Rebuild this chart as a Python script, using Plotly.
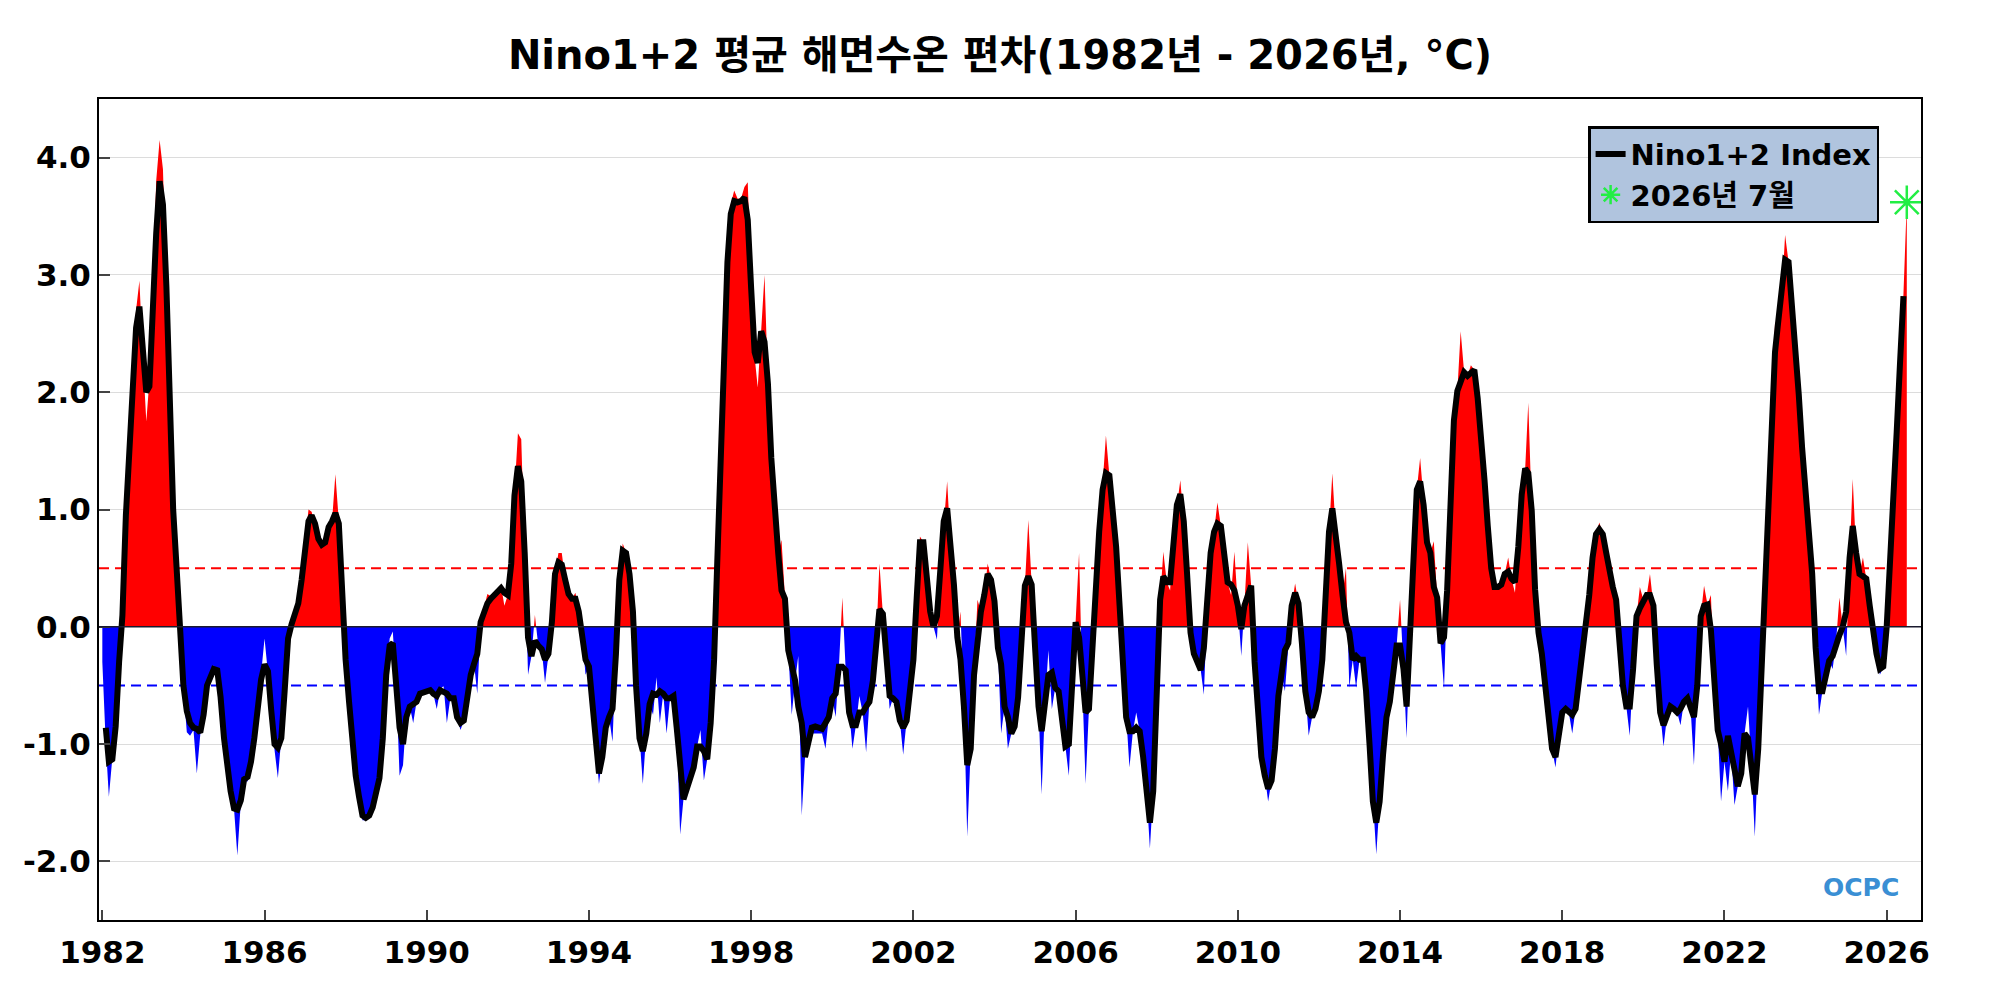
import numpy as np
import pandas as pd
import plotly.graph_objects as go

# monthly Nino1+2 SST anomaly (degC), Jan 1982 .. Jul 2026 (red/blue fill)
anom_1980s = [
    -0.30, -1.00, -1.45, -1.10, -0.80, -0.20, 0.20, 1.00, 1.60, 2.25, 2.70, 2.95,   # 1982
    2.30, 1.75, 2.10, 2.80, 3.80, 4.15, 3.90, 2.90, 1.90, 0.95, 0.45, -0.15,        # 1983
    -0.55, -0.90, -0.93, -0.88, -1.25, -0.92, -0.70, -0.45, -0.40, -0.33, -0.40, -0.65,  # 1984
    -1.00, -1.25, -1.42, -1.55, -1.95, -1.50, -1.32, -1.32, -1.15, -0.95, -0.70, -0.40,  # 1985
    -0.10, -0.40, -0.75, -1.05, -1.29, -0.95, -0.50, -0.05, 0.05, 0.15, 0.25, 0.45,  # 1986
    0.75, 1.00, 0.98, 0.85, 0.75, 0.72, 0.75, 0.85, 0.90, 1.30, 0.90, 0.20,         # 1987
    -0.30, -0.65, -0.95, -1.27, -1.45, -1.65, -1.65, -1.63, -1.55, -1.40, -1.29, -0.95,  # 1988
    -0.41, -0.10, -0.04, -0.50, -1.27, -1.18, -0.77, -0.68, -0.82, -0.64, -0.57, -0.56,  # 1989
]
anom_1990s = [
    -0.55, -0.54, -0.57, -0.70, -0.54, -0.50, -0.82, -0.61, -0.61, -0.77, -0.88, -0.80,  # 1990
    -0.55, -0.41, -0.30, -0.57, 0.04, 0.15, 0.28, 0.26, 0.28, 0.33, 0.35, 0.18,     # 1991
    0.27, 0.55, 1.15, 1.65, 1.60, 0.63, -0.41, -0.25, 0.10, -0.16, -0.19, -0.48,    # 1992
    -0.23, 0.04, 0.45, 0.63, 0.63, 0.40, 0.28, 0.24, 0.29, 0.13, -0.09, -0.41,      # 1993
    -0.34, -0.68, -1.04, -1.34, -1.11, -0.86, -0.77, -0.98, -0.23, 0.40, 0.71, 0.63,  # 1994
    0.45, 0.13, -0.50, -0.95, -1.34, -0.91, -0.66, -0.75, -0.43, -0.82, -0.57, -0.91,  # 1995
    -0.61, -0.59, -0.86, -1.77, -1.47, -1.38, -1.29, -1.20, -1.02, -0.88, -1.31, -1.13,  # 1996
    -0.82, -0.28, 0.54, 1.44, 2.34, 3.11, 3.60, 3.72, 3.65, 3.65, 3.75, 3.79,       # 1997
    2.88, 2.30, 2.04, 2.52, 3.00, 2.07, 1.44, 0.94, 0.63, 0.74, 0.24, -0.20,        # 1998
    -0.75, -0.46, -0.25, -1.61, -1.11, -0.95, -0.91, -0.91, -0.91, -0.91, -1.04, -0.77,  # 1999
]
anom_2000s = [
    -0.61, -0.77, -0.34, 0.25, -0.37, -0.73, -1.04, -0.84, -0.59, -0.73, -1.07, -0.64,  # 2000
    -0.46, -0.09, 0.54, 0.11, -0.32, -0.70, -0.61, -0.64, -0.80, -1.09, -0.80, -0.59,  # 2001
    -0.28, 0.27, 0.77, 0.72, 0.40, 0.13, 0.00, -0.11, 0.49, 0.90, 1.24, 0.72,       # 2002
    0.36, -0.09, 0.13, -0.68, -1.79, -1.04, -0.41, 0.23, 0.13, 0.27, 0.54, 0.40,    # 2003
    0.22, -0.18, -0.91, -0.68, -1.04, -0.91, -0.85, -0.60, -0.07, 0.35, 0.91, 0.36,  # 2004
    0.04, -0.68, -1.43, -0.64, -0.20, -0.70, -0.52, -0.55, -0.77, -1.02, -1.27, -0.55,  # 2005
    0.04, 0.63, -0.46, -1.34, -0.70, -0.18, 0.36, 0.81, 1.17, 1.63, 1.29, 0.99,     # 2006
    0.68, 0.18, -0.28, -0.77, -1.20, -0.89, -0.73, -0.89, -1.11, -1.40, -1.89, -1.40,  # 2007
    -0.64, 0.23, 0.64, 0.38, 0.31, 0.81, 1.04, 1.25, 0.90, 0.45, -0.05, -0.23,      # 2008
    -0.32, -0.37, -0.58, 0.18, 0.63, 0.81, 1.06, 0.86, 0.59, 0.38, 0.27, 0.64,      # 2009
]
anom_2010s = [
    0.18, -0.25, 0.18, 0.72, 0.35, -0.30, -0.70, -1.11, -1.27, -1.49, -1.31, -1.04,  # 2010
    -0.59, -0.41, -0.55, -0.14, 0.18, 0.37, 0.20, -0.14, -0.55, -0.93, -0.77, -0.70,  # 2011
    -0.55, -0.28, 0.27, 0.81, 1.31, 0.81, 0.54, 0.27, 0.50, -0.52, -0.28, -0.52,    # 2012
    -0.28, -0.28, -0.55, -1.00, -1.49, -1.94, -1.49, -1.09, -0.77, -0.64, -0.41, -0.16,  # 2013
    0.23, -0.36, -0.95, -0.09, 0.68, 1.17, 1.44, 1.04, 0.72, 0.63, 0.73, 0.25,      # 2014
    -0.14, -0.53, 0.31, 1.08, 1.76, 2.01, 2.52, 2.17, 2.14, 2.23, 2.19, 1.95,       # 2015
    1.65, 1.25, 0.86, 0.50, 0.34, 0.34, 0.36, 0.45, 0.59, 0.41, 0.29, 0.68,         # 2016
    1.13, 1.35, 1.91, 0.99, 0.32, -0.05, -0.23, -0.50, -0.77, -1.04, -1.20, -0.93,  # 2017
    -0.73, -0.70, -0.73, -0.91, -0.70, -0.46, -0.23, -0.05, 0.27, 0.59, 0.79, 0.89,  # 2018
    0.79, 0.63, 0.47, 0.34, 0.23, -0.18, -0.50, -0.68, -0.93, -0.36, 0.09, 0.34,    # 2019
]
anom_2020s = [
    0.23, 0.27, 0.45, 0.18, -0.32, -0.73, -1.02, -0.77, -0.68, -0.70, -0.73, -0.84,  # 2020
    -0.64, -0.61, -0.68, -1.18, -0.50, 0.09, 0.35, 0.19, 0.27, -0.55, -0.88, -1.49,  # 2021
    -1.15, -1.40, -1.06, -1.52, -1.36, -1.25, -0.91, -0.68, -1.18, -1.79, -1.04, -0.36,  # 2022
    0.13, 0.94, 1.67, 2.59, 2.61, 2.84, 3.34, 3.11, 2.75, 2.34, 1.98, 1.53,         # 2023
    1.13, 0.76, 0.45, -0.18, -0.75, -0.55, -0.41, -0.29, -0.36, -0.14, 0.25, 0.00,  # 2024
    -0.25, 0.59, 1.26, 0.63, 0.45, 0.59, 0.41, 0.18, -0.05, -0.23, -0.41, -0.34,    # 2025
    0.00, 0.50, 1.08, 1.66, 2.25, 2.84, 3.62,                                       # 2026
]

# Nino1+2 index (smoothed, black line), same months; None where not drawn
idx_1980s = [
    None, -0.86, -1.15, -1.13, -0.85, -0.30, 0.10, 0.95, 1.55, 2.20, 2.55, 2.73,
    2.40, 2.00, 2.05, 2.75, 3.35, 3.80, 3.60, 2.90, 2.00, 1.00, 0.50, -0.10,
    -0.50, -0.72, -0.82, -0.86, -0.87, -0.90, -0.75, -0.50, -0.42, -0.36, -0.37, -0.60,
    -0.95, -1.20, -1.40, -1.55, -1.56, -1.48, -1.30, -1.28, -1.15, -0.95, -0.70, -0.45,
    -0.32, -0.38, -0.70, -1.00, -1.03, -0.95, -0.55, -0.10, 0.02, 0.10, 0.20, 0.40,
    0.70, 0.90, 0.95, 0.88, 0.75, 0.70, 0.72, 0.85, 0.90, 0.97, 0.88, 0.18,
    -0.28, -0.64, -0.95, -1.27, -1.45, -1.61, -1.63, -1.61, -1.54, -1.40, -1.29, -0.95,
    -0.41, -0.16, -0.14, -0.50, -0.86, -1.00, -0.77, -0.68, -0.66, -0.64, -0.57, -0.56,
]
idx_1990s = [
    -0.55, -0.54, -0.57, -0.59, -0.54, -0.55, -0.57, -0.61, -0.61, -0.77, -0.82, -0.80,
    -0.55, -0.41, -0.32, -0.23, 0.04, 0.13, 0.20, 0.24, 0.27, 0.31, 0.33, 0.29,
    0.27, 0.54, 1.12, 1.37, 1.24, 0.63, -0.09, -0.25, -0.12, -0.16, -0.19, -0.28,
    -0.23, 0.04, 0.45, 0.55, 0.53, 0.40, 0.28, 0.24, 0.24, 0.13, -0.09, -0.28,
    -0.34, -0.68, -1.04, -1.25, -1.11, -0.86, -0.77, -0.70, -0.23, 0.40, 0.65, 0.63,
    0.45, 0.13, -0.50, -0.95, -1.06, -0.91, -0.66, -0.57, -0.58, -0.55, -0.57, -0.61,
    -0.61, -0.59, -0.86, -1.18, -1.47, -1.38, -1.29, -1.20, -1.02, -1.02, -1.06, -1.13,
    -0.82, -0.28, 0.54, 1.44, 2.34, 3.11, 3.52, 3.63, 3.62, 3.63, 3.66, 3.47,
    2.88, 2.34, 2.25, 2.52, 2.43, 2.07, 1.44, 0.94, 0.63, 0.31, 0.24, -0.20,
    -0.35, -0.46, -0.68, -0.82, -1.11, -0.95, -0.86, -0.85, -0.86, -0.87, -0.82, -0.77,
]
idx_2000s = [
    -0.61, -0.57, -0.34, -0.34, -0.37, -0.73, -0.84, -0.84, -0.73, -0.73, -0.68, -0.64,
    -0.46, -0.09, 0.15, 0.11, -0.32, -0.59, -0.61, -0.64, -0.80, -0.86, -0.80, -0.59,
    -0.28, 0.27, 0.72, 0.72, 0.40, 0.13, 0.00, 0.09, 0.49, 0.90, 1.01, 0.72,
    0.36, -0.09, -0.28, -0.68, -1.18, -1.04, -0.41, -0.14, 0.13, 0.27, 0.45, 0.40,
    0.22, -0.18, -0.32, -0.68, -0.77, -0.91, -0.85, -0.60, -0.07, 0.35, 0.43, 0.36,
    -0.18, -0.68, -0.89, -0.64, -0.41, -0.39, -0.52, -0.55, -0.77, -1.02, -1.00, -0.55,
    0.04, -0.09, -0.46, -0.73, -0.70, -0.18, 0.36, 0.81, 1.17, 1.31, 1.29, 0.99,
    0.68, 0.18, -0.28, -0.77, -0.89, -0.89, -0.86, -0.89, -1.11, -1.40, -1.67, -1.40,
    -0.64, 0.23, 0.43, 0.38, 0.38, 0.81, 1.04, 1.13, 0.90, 0.45, -0.05, -0.23,
    -0.32, -0.37, -0.18, 0.18, 0.63, 0.81, 0.88, 0.86, 0.59, 0.38, 0.36, 0.31,
]
idx_2010s = [
    0.18, -0.02, 0.18, 0.29, 0.35, -0.30, -0.70, -1.11, -1.27, -1.38, -1.31, -1.04,
    -0.59, -0.41, -0.20, -0.14, 0.18, 0.29, 0.20, -0.14, -0.55, -0.73, -0.77, -0.70,
    -0.55, -0.28, 0.27, 0.81, 1.01, 0.81, 0.54, 0.27, 0.04, -0.05, -0.28, -0.25,
    -0.28, -0.28, -0.55, -1.00, -1.49, -1.67, -1.49, -1.09, -0.77, -0.64, -0.41, -0.16,
    -0.16, -0.36, -0.68, -0.09, 0.68, 1.17, 1.24, 1.04, 0.72, 0.63, 0.34, 0.25,
    -0.14, -0.09, 0.31, 1.08, 1.76, 2.01, 2.10, 2.17, 2.14, 2.17, 2.19, 1.95,
    1.65, 1.25, 0.86, 0.50, 0.34, 0.34, 0.36, 0.45, 0.47, 0.41, 0.38, 0.68,
    1.13, 1.35, 1.31, 0.99, 0.32, -0.05, -0.23, -0.50, -0.77, -1.04, -1.11, -0.93,
    -0.73, -0.70, -0.73, -0.75, -0.70, -0.46, -0.23, -0.05, 0.27, 0.59, 0.79, 0.83,
    0.79, 0.63, 0.47, 0.34, 0.23, -0.18, -0.50, -0.68, -0.68, -0.36, 0.09, 0.16,
]
idx_2020s = [
    0.23, 0.27, 0.27, 0.18, -0.32, -0.73, -0.84, -0.77, -0.68, -0.70, -0.73, -0.70,
    -0.64, -0.61, -0.68, -0.77, -0.50, 0.09, 0.18, 0.19, -0.03, -0.55, -0.88, -1.00,
    -1.15, -0.93, -1.06, -1.18, -1.36, -1.25, -0.91, -0.95, -1.18, -1.43, -1.04, -0.36,
    0.13, 0.94, 1.67, 2.34, 2.61, 2.84, 3.13, 3.11, 2.75, 2.34, 1.98, 1.53,
    1.13, 0.76, 0.45, -0.18, -0.55, -0.55, -0.41, -0.29, -0.25, -0.14, -0.07, 0.00,
    0.13, 0.59, 0.86, 0.63, 0.45, 0.43, 0.41, 0.18, -0.05, -0.23, -0.36, -0.34,
    0.00, 0.50, 1.08, 1.66, 2.25, 2.82, None,
]

tick_years = [1982, 1986, 1990, 1994, 1998, 2002, 2006, 2010, 2014, 2018, 2022, 2026]
y_ticks = [-2, -1, 0, 1, 2, 3, 4]
y_ticktext = ["-2.0", "-1.0", "0.0", "1.0", "2.0", "3.0", "4.0"]

FONT = "DejaVu Sans, Noto Sans CJK KR, sans-serif"

anom = anom_1980s + anom_1990s + anom_2000s + anom_2010s + anom_2020s
idx = idx_1980s + idx_1990s + idx_2000s + idx_2010s + idx_2020s
months = pd.date_range("1982-01-01", periods=len(anom), freq="MS")


def split_at_zero(dates, vals):
    # add the zero crossings so the red and blue areas meet cleanly
    t = dates.asi8.astype(float)
    xs, pos, neg = [], [], []
    for i, v in enumerate(vals):
        xs.append(t[i])
        pos.append(max(v, 0.0))
        neg.append(min(v, 0.0))
        if i + 1 < len(vals) and v * vals[i + 1] < 0:
            w = vals[i + 1]
            xs.append(t[i] + (t[i + 1] - t[i]) * v / (v - w))
            pos.append(0.0)
            neg.append(0.0)
    return pd.to_datetime(np.array(xs).astype("int64")), pos, neg


fx, fpos, fneg = split_at_zero(months, anom)

fig = go.Figure()
fig.add_trace(go.Scatter(x=fx, y=fpos, mode="lines", fill="tozeroy",
                         fillcolor="#FF0000", line=dict(width=0, color="#FF0000"),
                         showlegend=False, hoverinfo="skip"))
fig.add_trace(go.Scatter(x=fx, y=fneg, mode="lines", fill="tozeroy",
                         fillcolor="#0000FF", line=dict(width=0, color="#0000FF"),
                         showlegend=False, hoverinfo="skip"))
fig.add_trace(go.Scatter(x=months, y=idx, mode="lines", name="Nino1+2 Index",
                         line=dict(color="black", width=6)))
fig.add_trace(go.Scatter(x=[months[-1]], y=[anom[-1]], mode="markers", name="2026년 7월",
                         marker=dict(symbol="asterisk-open", size=28, color="#22EE44",
                                     line=dict(color="#22EE44", width=2.5))))

# +-0.5 thresholds and the zero line
fig.add_shape(type="line", xref="paper", x0=0, x1=1, y0=0.5, y1=0.5, layer="below",
              line=dict(color="#FF0000", width=2, dash="10px,6px"))
fig.add_shape(type="line", xref="paper", x0=0, x1=1, y0=-0.5, y1=-0.5, layer="below",
              line=dict(color="#0000FF", width=2, dash="10px,6px"))
fig.add_shape(type="line", xref="paper", x0=0, x1=1, y0=0, y1=0, layer="above",
              line=dict(color="#1a1a2e", width=1.5))

fig.add_annotation(text="OCPC", xref="paper", yref="paper", x=0.967, y=0.039,
                   xanchor="center", yanchor="middle", showarrow=False,
                   font=dict(family=FONT, size=25, color="#3a8fd4"))

# the page adds an 8px body margin, so the margins are trimmed by that much
fig.update_layout(
    width=2000, height=1000,
    margin=dict(l=91, r=87, t=91, b=88),
    plot_bgcolor="white", paper_bgcolor="white",
    font=dict(family=FONT, size=31, color="black", weight="bold"),
    title=dict(text="Nino1+2 평균 해면수온 편차(1982년 - 2026년, °C)",
               x=0.496, xanchor="center", y=0.953, yanchor="middle",
               font=dict(size=40)),
    legend=dict(x=0.977, xanchor="right", y=0.967, yanchor="top",
                bgcolor="#B0C4DE", bordercolor="black", borderwidth=2.5,
                font=dict(size=29), tracegroupgap=0),
    showlegend=True,
)
fig.update_xaxes(
    type="date", range=["1981-12-02", "2026-11-06"],
    tickvals=[pd.Timestamp(f"{y}-01-01") for y in tick_years],
    ticktext=[str(y) for y in tick_years],
    ticks="inside", ticklen=10, tickwidth=2, tickcolor="#444",
    showline=True, linecolor="black", linewidth=2, mirror=True,
    showgrid=False, ticklabelstandoff=4, automargin=False,
)
fig.update_yaxes(
    range=[-2.5, 4.5], tickvals=y_ticks, ticktext=y_ticktext,
    ticks="inside", ticklen=11, tickwidth=2, tickcolor="#444",
    showline=True, linecolor="black", linewidth=2, mirror=True,
    showgrid=True, gridcolor="#dcdcdc", gridwidth=1, zeroline=False,
    ticklabelstandoff=0, automargin=False,
)

fig.write_html("out.html")
